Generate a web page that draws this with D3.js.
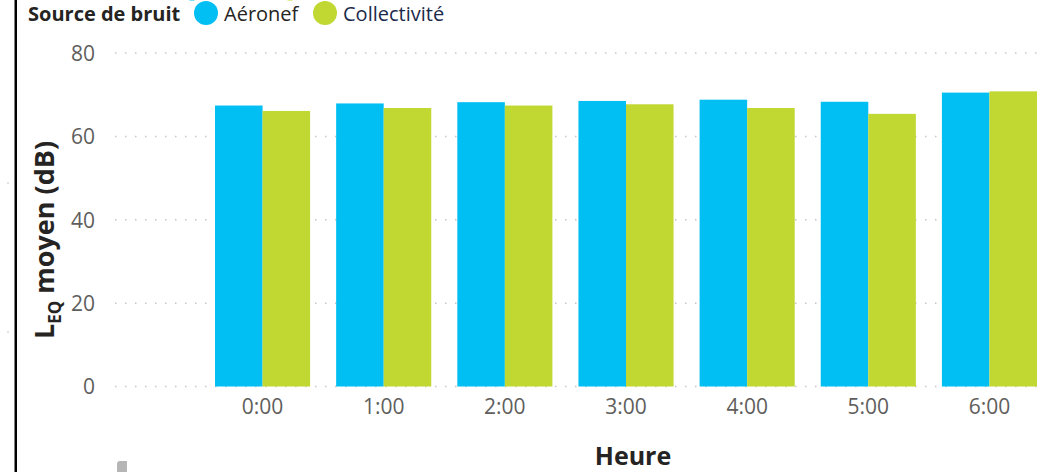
<!DOCTYPE html>
<html>
<head>
<meta charset="utf-8">
<title>Source de bruit</title>
<script src="https://d3js.org/d3.v7.min.js"></script>
<style>
  body { margin: 0; background: #fff; font-family: 'Open Sans', 'Noto Sans', sans-serif; }
  .tick text { fill: #605E5C; font-family: 'Open Sans', sans-serif; }
</style>
</head>
<body>
<div id="chart"></div>
<script>
var heures = ["0:00", "1:00", "2:00", "3:00", "4:00", "5:00", "6:00"];
var series = ["Aéronef", "Collectivité"];
var aeronef = [67.4, 67.9, 68.2, 68.5, 68.8, 68.3, 70.5];
var collectivite = [66.1, 66.8, 67.4, 67.7, 66.8, 65.4, 70.8];
var yTicks = [0, 20, 40, 60, 80];

var width = 1038, height = 472;
var colors = { "Aéronef": "#01BFF3", "Collectivité": "#C1D832" };

var svg = d3.select('#chart').append('svg')
  .attr('width', width).attr('height', height);

// black border on the left
svg.append('rect').attr('x', 14.5).attr('y', 0).attr('width', 2.5).attr('height', height).attr('fill', '#000');

var x = d3.scaleBand().domain(heures).range([215, 1037]).paddingInner(0.215).paddingOuter(0);
var x1 = d3.scaleBand().domain(series).range([0, x.bandwidth()]);
var y = d3.scaleLinear().domain([0, 80]).range([386.5, 53]);

// grid
svg.append('g').selectAll('line').data(yTicks).enter().append('line')
  .attr('x1', 115).attr('x2', width)
  .attr('y1', function(d) { return y(d); }).attr('y2', function(d) { return y(d); })
  .attr('stroke', '#C8C6C4').attr('stroke-width', 1.5)
  .attr('stroke-dasharray', '1.5,8.5');

// y axis
var yAxis = svg.append('g').attr('transform', 'translate(95,0)')
  .call(d3.axisLeft(y).tickValues(yTicks).tickSize(0).tickPadding(0));
yAxis.select('.domain').remove();
yAxis.selectAll('text').style('font-size', '21px').attr('dy', '0.35em');

// x axis
var xAxis = svg.append('g').attr('transform', 'translate(0,399)')
  .call(d3.axisBottom(x).tickSize(0).tickPadding(0));
xAxis.select('.domain').remove();
xAxis.selectAll('text').style('font-size', '21px').attr('dy', '0.71em');

// bars
var rows = heures.map(function(h, i) {
  return { heure: h, values: [{ key: "Aéronef", v: aeronef[i] }, { key: "Collectivité", v: collectivite[i] }] };
});
var groups = svg.append('g').selectAll('g').data(rows).enter().append('g')
  .attr('transform', function(d) { return 'translate(' + x(d.heure) + ',0)'; });
groups.selectAll('rect').data(function(d) { return d.values; }).enter().append('rect')
  .attr('x', function(d) { return x1(d.key); })
  .attr('width', x1.bandwidth())
  .attr('y', function(d) { return y(d.v); })
  .attr('height', function(d) { return y(0) - y(d.v); })
  .attr('fill', function(d) { return colors[d.key]; });

// axis titles
svg.append('text').attr('x', 633).attr('y', 465).attr('text-anchor', 'middle')
  .style('font-size', '25px').style('font-weight', 'bold').attr('fill', '#252423').text('Heure');

var yTitle = svg.append('text').attr('transform', 'translate(54,240) rotate(-90)')
  .attr('text-anchor', 'middle').style('font-size', '27px').style('font-weight', 'bold').attr('fill', '#252423');
yTitle.append('tspan').text('L');
yTitle.append('tspan').attr('dy', 7).style('font-size', '17px').text('EQ');
yTitle.append('tspan').attr('dy', -7).text(' moyen (dB)');

// legend
var legend = svg.append('g');
legend.append('text').attr('x', 28).attr('y', 21).style('font-size', '20px').style('font-weight', 'bold')
  .attr('fill', '#252423').text('Source de bruit');
var legX = [206, 325];
var cutX = [192, 290]; // row above, mostly scrolled out of view
series.forEach(function(s, i) {
  legend.append('circle').attr('cx', legX[i]).attr('cy', 13).attr('r', 12).attr('fill', colors[s]);
  legend.append('circle').attr('cx', cutX[i]).attr('cy', -10.5).attr('r', 11).attr('fill', colors[s]);
  legend.append('text').attr('x', legX[i] + 18).attr('y', 21).style('font-size', '20px')
    .attr('fill', i === 0 ? '#252423' : '#1B2A4A').text(s);
});

// small artefacts
svg.append('circle').attr('cx', 8).attr('cy', 183).attr('r', 0.8).attr('fill', '#BBB');
svg.append('circle').attr('cx', 8).attr('cy', 332).attr('r', 0.8).attr('fill', '#BBB');
svg.append('path').attr('d', 'M117,472 L117,464 Q117,461 120,461 L127,461 L127,472 Z').attr('fill', '#B5B5B5');
</script>
</body>
</html>
